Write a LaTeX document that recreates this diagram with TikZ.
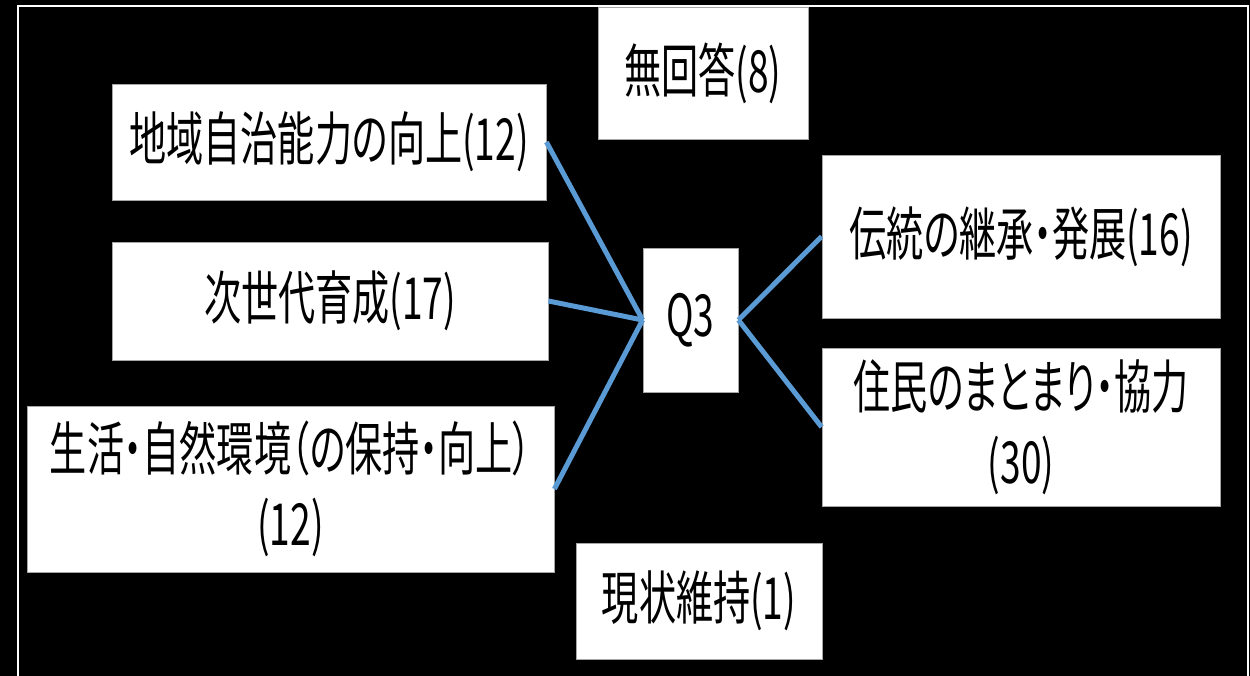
\documentclass[tikz,border=0pt]{standalone}
\usepackage{fontspec}
\setmainfont{Noto Sans CJK JP}[FakeStretch=0.64,RawFeature=+palt]
\begin{document}
\begin{tikzpicture}[x=1pt,y=-1pt,
  box/.style={draw=gray!70,line width=0.8pt,fill=white,inner sep=0pt,align=center,
    font=\fontsize{58}{75}\selectfont,text=black},
  link/.style={draw={rgb,255:red,91;green,155;blue,213},line width=5pt}]
\fill[black] (0,0) rectangle (1250,676);
\useasboundingbox (0,0) rectangle (1250,676);
\draw[white,line width=2pt] (18,690) -- (18,6) -- (1248,6) -- (1248,690);
\node[box,minimum width=210,minimum height=132] (na) at (703,73) {無回答(8)};
\node[box,minimum width=434,minimum height=116] (b1) at (329,142) {地域自治能力の向上(12)};
\node[box,minimum width=436,minimum height=118] (b2) at (330,301) {次世代育成(17)};
\node[box,minimum width=527,minimum height=166] (b3) at (290.5,489) {生活・自然環境（の保持・向上）\\(12)};
\node[box,minimum width=95,minimum height=144] (q3) at (690.5,320) {Q3};
\node[box,minimum width=398,minimum height=163] (r1) at (1021,236.5) {伝統の継承・発展(16)};
\node[box,minimum width=398,minimum height=158] (r2) at (1021,427) {住民のまとまり・協力\\(30)};
\node[box,minimum width=246,minimum height=116] (sj) at (699,601) {現状維持(1)};
\draw[link] (b1.east) -- (q3.west);
\draw[link] (b2.east) -- (q3.west);
\draw[link] (b3.east) -- (q3.west);
\draw[link] (r1.west) -- (q3.east);
\draw[link] (r2.west) -- (q3.east);
\end{tikzpicture}
\end{document}
